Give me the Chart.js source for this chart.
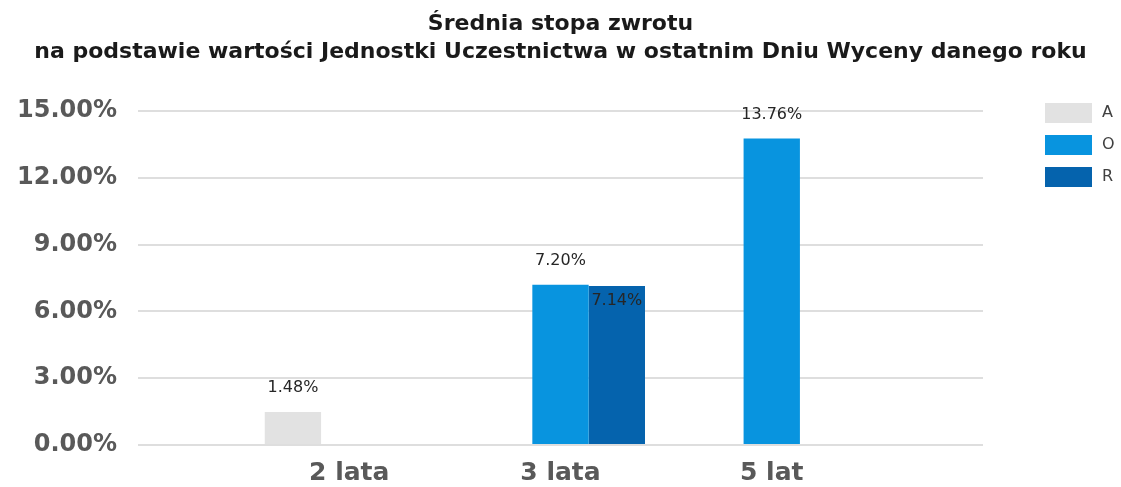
<!DOCTYPE html>
<html><head><meta charset="utf-8">
<script src="https://cdn.jsdelivr.net/npm/chart.js@4/dist/chart.umd.min.js"></script>
<style>html,body{margin:0;padding:0;background:#fff}#wrap{width:1121px;height:487px;position:relative}</style>
</head><body><div id="wrap"><canvas id="c"></canvas></div>
<script>
const categories = ['2 lata', '3 lata', '5 lat'];
const seriesNames = ['A', 'O', 'R'];
const valuesA = [1.48, null, null];
const valuesO = [null, 7.20, 13.76];
const valuesR = [null, 7.14, null];
const yTicks = [0, 3, 6, 9, 12, 15];
const titleLines = ['Średnia stopa zwrotu', 'na podstawie wartości Jednostki Uczestnictwa w ostatnim Dniu Wyceny danego roku'];
const colors = ['#e2e2e2', '#0894df', '#0563ad'];

function toPoints(vals) { return categories.map((c, i) => ({ x: i + 1, y: vals[i] })); }

const valueLabels = {
  id: 'valueLabels',
  afterDatasetsDraw(chart) {
    const ctx = chart.ctx;
    ctx.save();
    ctx.font = '16px "DejaVu Sans"';
    ctx.fillStyle = '#262626';
    ctx.textAlign = 'center';
    ctx.textBaseline = 'middle';
    chart.data.datasets.forEach((ds, di) => {
      const meta = chart.getDatasetMeta(di);
      meta.data.forEach((el, i) => {
        const v = ds.data[i].y;
        if (v === null || v === undefined) return;
        const y = ds.labelInside ? el.y + 15 : el.y - 24;
        ctx.fillText(v.toFixed(2) + '%', el.x, y);
      });
    });
    ctx.restore();
  }
};

const sideLegend = {
  id: 'sideLegend',
  afterDraw(chart) {
    const ctx = chart.ctx;
    ctx.save();
    ctx.font = '16px "DejaVu Sans"';
    ctx.textBaseline = 'middle';
    ctx.textAlign = 'left';
    chart.data.datasets.forEach((ds, i) => {
      const y = 103 + i * 32;
      ctx.fillStyle = ds.backgroundColor;
      ctx.fillRect(1045, y, 47, 20);
      ctx.fillStyle = '#404040';
      ctx.fillText(ds.label, 1102, y + 10);
    });
    ctx.restore();
  }
};

const allVals = [valuesA, valuesO, valuesR];
new Chart(document.getElementById('c'), {
  type: 'bar',
  data: {
    datasets: seriesNames.map((n, i) => ({
      label: n,
      data: toPoints(allVals[i]),
      backgroundColor: colors[i],
      borderWidth: 0,
      categoryPercentage: 0.8,
      barPercentage: 1.0,
      labelInside: n === 'R'
    }))
  },
  options: {
    responsive: true,
    maintainAspectRatio: false,
    animation: false,
    layout: { padding: 0 },
    plugins: {
      legend: { display: false },
      tooltip: { enabled: false },
      title: {
        display: true,
        text: titleLines,
        color: '#1a1a1a',
        font: { family: '"DejaVu Sans"', size: 22, weight: 'bold', lineHeight: 1.25 },
        padding: { top: 11, bottom: 45 }
      }
    },
    scales: {
      x: {
        type: 'linear',
        offset: false,
        min: 0,
        max: 4,
        grid: { display: false },
        border: { display: false },
        afterBuildTicks(scale) { scale.ticks = categories.map((c, i) => ({ value: i + 1 })); },
        afterFit(scale) { scale.height = 42; },
        ticks: {
          autoSkip: false,
          maxRotation: 0,
          padding: 5,
          color: '#595959',
          font: { family: '"DejaVu Sans"', size: 25, weight: 'bold' },
          callback: (v) => categories[v - 1] ?? ''
        }
      },
      y: {
        min: 0,
        max: 15,
        border: { display: false },
        grid: { color: '#dedede', lineWidth: 2, drawTicks: false },
        afterBuildTicks(scale) { scale.ticks = yTicks.map(v => ({ value: v })); },
        afterFit(scale) { scale.width = 138; },
        ticks: {
          padding: 21,
          color: '#595959',
          font: { family: '"DejaVu Sans"', size: 24, weight: 'bold' },
          callback: (v) => v.toFixed(2) + '%'
        }
      },
      legendSpace: {
        type: 'linear',
        position: 'right',
        display: true,
        grid: { display: false, drawTicks: false },
        border: { display: false },
        ticks: { display: false },
        afterFit(scale) { scale.width = 138; }
      }
    }
  },
  plugins: [valueLabels, sideLegend]
});
</script>
</body></html>
